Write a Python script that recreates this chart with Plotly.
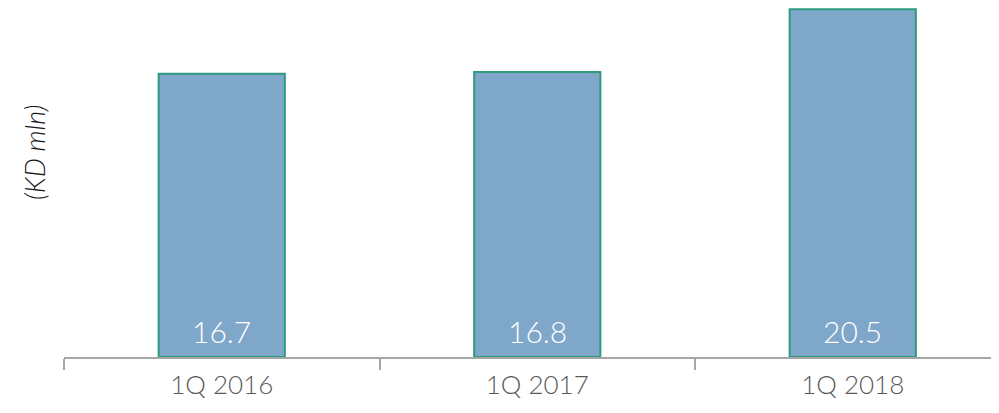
import plotly.graph_objects as go

categories = ["1Q 2016", "1Q 2017", "1Q 2018"]
values = [16.7, 16.8, 20.5]
labels = ["16.7", "16.8", "20.5"]

FONT = "Lato, sans-serif"

fig = go.Figure()
fig.add_trace(go.Bar(
    x=categories, y=values,
    marker=dict(color="#7FA7CA", line=dict(color="#2E9A7F", width=2)),
    width=0.4, cliponaxis=False, hoverinfo="x+y",
))

annotations = [
    dict(x=c, y=0, xref="x", yref="y", text=t, showarrow=False,
         yanchor="bottom", yshift=6,
         font=dict(color="white", size=30, family=FONT, weight=300))
    for c, t in zip(categories, labels)
]
annotations.append(dict(
    text="<i>(KD mln)</i>", x=-0.031, y=0.5874, xref="paper", yref="paper",
    xanchor="center", yanchor="middle",
    showarrow=False, textangle=-90,
    font=dict(size=27, color="#1a1a1a", family=FONT, weight=300),
))

fig.update_layout(
    width=991, height=405,
    margin=dict(l=56, r=0, t=0, b=56),
    plot_bgcolor="white", paper_bgcolor="white",
    showlegend=False,
    font=dict(family=FONT),
    xaxis=dict(
        range=[-0.5, 2.4635], tickson="boundaries", ticks="outside",
        ticklen=11, tickcolor="#A6A6A6", tickwidth=2,
        showline=True, linecolor="#A6A6A6", linewidth=2,
        tickfont=dict(size=26, color="#595959", weight=300), showgrid=False,
        ticklabelstandoff=4,
    ),
    yaxis=dict(range=[0, 20.57], visible=False),
    annotations=annotations,
)
fig.write_html("out.html")
